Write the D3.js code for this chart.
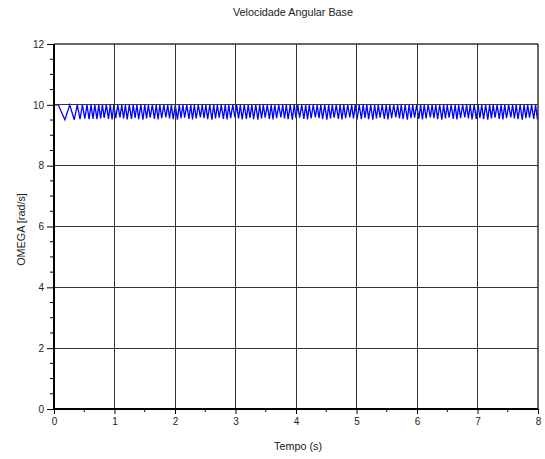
<!DOCTYPE html>
<html>
<head>
<meta charset="utf-8">
<script src="https://cdn.jsdelivr.net/npm/d3@7"></script>
<style>
  html, body { margin: 0; padding: 0; background: #fff; }
  svg { display: block; font-family: "Liberation Sans", Arial, sans-serif; }
</style>
</head>
<body>
<svg id="chart" width="545" height="459"></svg>
<script>
// Axis ranges and tick labels
const xTicks = [0, 1, 2, 3, 4, 5, 6, 7, 8];
const yTicks = [0, 2, 4, 6, 8, 10, 12];
const xMinorTicks = [0.5, 1.5, 2.5, 3.5, 4.5, 5.5, 6.5, 7.5];
const yMinorTicks = [0.5, 1, 1.5, 2.5, 3, 3.5, 4.5, 5, 5.5, 6.5, 7, 7.5, 8.5, 9, 9.5, 10.5, 11, 11.5];

// Angular velocity: the signal rests at restValue and dips at each trough.
const restValue = 10;
// Times (s) at which the signal is back at restValue
const peakT = [0, 0.07, 0.26, 0.385, 0.47, 0.545, 0.612, 0.675,
  0.74, 0.80, 0.865, 0.93, 0.99, 1.055, 1.12, 1.18, 1.245, 1.31, 1.37, 1.435,
  1.50, 1.56, 1.625, 1.69, 1.75, 1.815, 1.88, 1.94, 2.005, 2.07, 2.13, 2.195,
  2.26, 2.32, 2.385, 2.45, 2.51, 2.575, 2.64, 2.70, 2.765, 2.83, 2.89, 2.955,
  3.02, 3.08, 3.145, 3.21, 3.27, 3.335, 3.40, 3.46, 3.525, 3.59, 3.65, 3.715,
  3.78, 3.84, 3.905, 3.97, 4.03, 4.095, 4.16, 4.22, 4.285, 4.35, 4.41, 4.475,
  4.54, 4.60, 4.665, 4.73, 4.79, 4.855, 4.92, 4.98, 5.045, 5.11, 5.17, 5.235,
  5.30, 5.36, 5.425, 5.49, 5.55, 5.615, 5.68, 5.74, 5.805, 5.87, 5.93, 5.995,
  6.06, 6.12, 6.185, 6.25, 6.31, 6.375, 6.44, 6.50, 6.565, 6.63, 6.69, 6.755,
  6.82, 6.88, 6.945, 7.01, 7.07, 7.135, 7.20, 7.26, 7.325, 7.39, 7.45, 7.515,
  7.58, 7.64, 7.705, 7.77, 7.83, 7.895, 7.96, 8.02];
// Times (s) of the troughs
const troughT = [0.18, 0.335, 0.43, 0.51, 0.58, 0.645,
  0.71, 0.77, 0.83, 0.90, 0.96, 1.02, 1.09, 1.15, 1.21, 1.28, 1.34, 1.40,
  1.47, 1.53, 1.59, 1.66, 1.72, 1.78, 1.85, 1.91, 1.97, 2.04, 2.10, 2.16,
  2.23, 2.29, 2.35, 2.42, 2.48, 2.54, 2.61, 2.67, 2.73, 2.80, 2.86, 2.92,
  2.99, 3.05, 3.11, 3.18, 3.24, 3.30, 3.37, 3.43, 3.49, 3.56, 3.62, 3.68,
  3.75, 3.81, 3.87, 3.94, 4.00, 4.06, 4.13, 4.19, 4.25, 4.32, 4.38, 4.44,
  4.51, 4.57, 4.63, 4.70, 4.76, 4.82, 4.89, 4.95, 5.01, 5.08, 5.14, 5.20,
  5.27, 5.33, 5.39, 5.46, 5.52, 5.58, 5.65, 5.71, 5.77, 5.84, 5.90, 5.96,
  6.03, 6.09, 6.15, 6.22, 6.28, 6.34, 6.41, 6.47, 6.53, 6.60, 6.66, 6.72,
  6.79, 6.85, 6.91, 6.98, 7.04, 7.10, 7.17, 7.23, 7.29, 7.36, 7.42, 7.48,
  7.55, 7.61, 7.67, 7.74, 7.80, 7.86, 7.93, 7.99];
// Omega (rad/s) at each trough
const troughW = [9.51, 9.51, 9.53, 9.55, 9.53, 9.54,
  9.53, 9.55, 9.57, 9.54, 9.52, 9.56, 9.59, 9.55, 9.52, 9.54, 9.57, 9.53,
  9.51, 9.55, 9.58, 9.54, 9.52, 9.56, 9.59, 9.55, 9.53, 9.51, 9.56, 9.58,
  9.54, 9.52, 9.55, 9.59, 9.56, 9.53, 9.51, 9.55, 9.58, 9.54, 9.52, 9.56,
  9.59, 9.55, 9.52, 9.54, 9.57, 9.53, 9.51, 9.55, 9.58, 9.54, 9.52, 9.56,
  9.59, 9.55, 9.53, 9.51, 9.56, 9.58, 9.54, 9.52, 9.55, 9.59, 9.56, 9.53,
  9.51, 9.55, 9.58, 9.54, 9.52, 9.56, 9.59, 9.55, 9.52, 9.54, 9.57, 9.53,
  9.51, 9.55, 9.58, 9.54, 9.52, 9.56, 9.59, 9.55, 9.53, 9.51, 9.56, 9.58,
  9.54, 9.52, 9.55, 9.59, 9.56, 9.53, 9.51, 9.55, 9.58, 9.54, 9.52, 9.56,
  9.59, 9.55, 9.52, 9.54, 9.57, 9.53, 9.51, 9.55, 9.58, 9.54, 9.52, 9.56,
  9.59, 9.55, 9.53, 9.51, 9.56, 9.58, 9.54, 9.52];

const svg = d3.select("#chart");
const m = { left: 54, right: 7, top: 44, bottom: 50 };
const W = 545, H = 459;

const x = d3.scaleLinear().domain([0, 8]).range([m.left, W - m.right]);
const y = d3.scaleLinear().domain([0, 12]).range([H - m.bottom, m.top]);

// Clip region for the signal
svg.append("clipPath").attr("id", "plotClip")
  .append("rect")
  .attr("x", x(0)).attr("y", y(12))
  .attr("width", x(8) - x(0)).attr("height", y(0) - y(12));

// Signal polyline assembled from rest points and troughs
const pts = peakT.map(t => [t, restValue])
  .concat(troughT.map((t, i) => [t, troughW[i]]))
  .sort((a, b) => a[0] - b[0]);
const line = d3.line().x(d => x(d[0])).y(d => y(d[1]));
svg.append("path")
  .attr("clip-path", "url(#plotClip)")
  .attr("d", line(pts))
  .attr("fill", "none")
  .attr("stroke", "#0000ff")
  .attr("stroke-width", 1.3)
  .attr("stroke-linejoin", "miter");

// Grid, drawn over the signal
const grid = svg.append("g").attr("stroke", "#333").attr("stroke-width", 1)
  .attr("shape-rendering", "crispEdges");
grid.selectAll("line.gx").data(xTicks.slice(1, -1)).join("line")
  .attr("x1", d => x(d)).attr("x2", d => x(d))
  .attr("y1", y(0)).attr("y2", y(12));
grid.selectAll("line.gy").data(yTicks.slice(1, -1)).join("line")
  .attr("x1", x(0)).attr("x2", x(8))
  .attr("y1", d => y(d)).attr("y2", d => y(d));

// Frame (top and right)
svg.append("line").attr("x1", x(0)).attr("x2", x(8)).attr("y1", y(12)).attr("y2", y(12))
  .attr("stroke", "#333").attr("stroke-width", 1.5);
svg.append("line").attr("x1", x(8)).attr("x2", x(8)).attr("y1", y(12)).attr("y2", y(0))
  .attr("stroke", "#333").attr("stroke-width", 1.5);

// Axes
const fmt = d3.format("d");
const xAxis = svg.append("g").attr("transform", `translate(0,${y(0)})`)
  .call(d3.axisBottom(x).tickValues(xTicks).tickFormat(fmt).tickSize(5).tickPadding(4));
const yAxis = svg.append("g").attr("transform", `translate(${x(0)},0)`)
  .call(d3.axisLeft(y).tickValues(yTicks).tickFormat(fmt).tickSize(7).tickPadding(3));
[xAxis, yAxis].forEach(g => {
  g.select(".domain").attr("stroke", "#000").attr("stroke-width", 2);
  g.selectAll(".tick line").attr("stroke", "#000").attr("stroke-width", 1);
  g.selectAll(".tick text").attr("font-size", 10).attr("fill", "#222")
    .attr("font-family", "Liberation Sans, Arial, sans-serif");
});
xAxis.select(".domain").attr("d", `M${x(0)},0H${x(8)}`);
yAxis.select(".domain").attr("d", `M0,${y(0)}V${y(12)}`);

// Minor ticks
svg.append("g").selectAll("line").data(xMinorTicks).join("line")
  .attr("x1", d => x(d)).attr("x2", d => x(d))
  .attr("y1", y(0)).attr("y2", y(0) + 3)
  .attr("stroke", "#000");
svg.append("g").selectAll("line").data(yMinorTicks).join("line")
  .attr("x1", x(0) - 4).attr("x2", x(0))
  .attr("y1", d => y(d)).attr("y2", d => y(d))
  .attr("stroke", "#000");

// Titles
svg.append("text").attr("x", (x(0) + x(8)) / 2 - 3).attr("y", 16)
  .attr("text-anchor", "middle").attr("font-size", 10.8).attr("fill", "#222")
  .text("Velocidade Angular Base");
svg.append("text").attr("x", (x(0) + x(8)) / 2 + 2).attr("y", 450)
  .attr("text-anchor", "middle").attr("font-size", 10.8).attr("fill", "#222")
  .text("Tempo (s)");
svg.append("text")
  .attr("transform", `translate(25,${(y(0) + y(12)) / 2 + 3}) rotate(-90)`)
  .attr("text-anchor", "middle").attr("font-size", 10.8).attr("fill", "#222")
  .text("OMEGA [rad/s]");
</script>
</body>
</html>
